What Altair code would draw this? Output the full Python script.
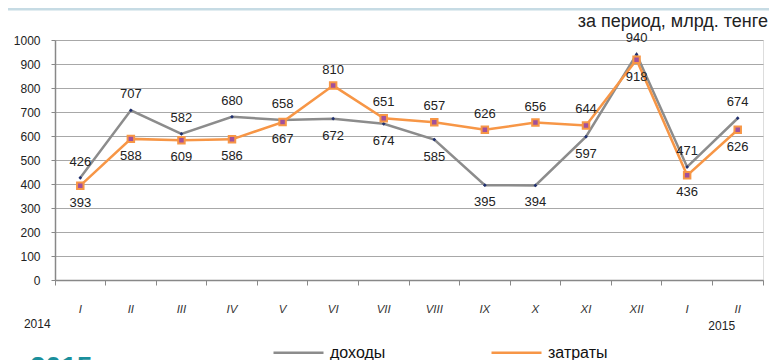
import altair as alt
import pandas as pd

months = ["I", "II", "III", "IV", "V", "VI", "VII", "VIII", "IX", "X", "XI", "XII", "I", "II"]
years = [2014] * 12 + [2015] * 2
income = [426, 707, 609, 680, 667, 672, 651, 585, 395, 394, 597, 940, 471, 674]   # доходы
costs = [393, 588, 582, 586, 658, 810, 674, 657, 626, 656, 644, 918, 436, 626]    # затраты
# which series' data label sits above the pair of points in each month
label_on_top = ["доходы", "доходы", "затраты", "доходы", "затраты", "затраты", "доходы",
                "затраты", "затраты", "затраты", "затраты", "доходы", "доходы", "доходы"]
series_names = ["доходы", "затраты"]
unit_title = "за период, млрд. тенге"

keys = [f"{y}-{m}" for y, m in zip(years, months)]

rows = []
for k, a, b in zip(keys, income, costs):
    rows.append({"key": k, "series": "доходы", "value": a})
    rows.append({"key": k, "series": "затраты", "value": b})
df = pd.DataFrame(rows)

top_rows, bot_rows = [], []
for k, a, b, t in zip(keys, income, costs, label_on_top):
    hi, lo = max(a, b), min(a, b)
    top_val = a if t == "доходы" else b
    bot_val = b if t == "доходы" else a
    top_rows.append({"key": k, "value": hi, "text": str(top_val)})
    bot_rows.append({"key": k, "value": lo, "text": str(bot_val)})
top_df = pd.DataFrame(top_rows)
bot_df = pd.DataFrame(bot_rows)

colors = ["#8c8c8c", "#f79646"]
FONT = "Liberation Sans"

xscale = alt.Scale(type="band", domain=keys, paddingInner=0, paddingOuter=0)
yscale = alt.Scale(domain=[0, 1000])

x_axis = alt.Axis(
    bandPosition=1, tickExtra=True,
    labelExpr="split(datum.value, '-')[1]", labelAngle=0,
    labelFontStyle="italic", labelFontSize=11.5, labelColor="#333333",
    labelPadding=18, labelBaseline="top",
    tickSize=5, tickColor="#888888", domainColor="#888888", domainWidth=1.5,
    grid=False,
)
y_axis = alt.Axis(
    values=list(range(0, 1001, 100)), format="d", grid=True, gridColor="#a8a8a8", gridWidth=1,
    tickSize=4, tickColor="#888888", domainColor="#888888", domainWidth=1.5,
    labelFontSize=12, labelColor="#222222", labelPadding=11,
)

def xe():
    return alt.X("key:N", scale=xscale, bandPosition=0.5, title=None, axis=x_axis)

def ye():
    return alt.Y("value:Q", scale=yscale, title=None, axis=y_axis)

color_enc = alt.Color(
    "series:N", scale=alt.Scale(domain=series_names, range=colors),
    legend=alt.Legend(
        title=None, orient="none", legendX=217, legendY=286, direction="horizontal",
        symbolType="stroke", symbolSize=2500, symbolStrokeWidth=2.5,
        labelFontSize=16, labelColor="#111111", labelOffset=5, columnPadding=100,
        labelFont=FONT,
    ),
)

base = alt.Chart(df)
lines = base.mark_line(strokeWidth=2.5).encode(x=xe(), y=ye(), color=color_enc)

pts_income = base.transform_filter(alt.datum.series == "доходы").mark_point(
    shape="diamond", filled=True, size=14, color="#1f2f70", opacity=1
).encode(x=xe(), y=ye())

pts_costs = base.transform_filter(alt.datum.series == "затраты").mark_point(
    shape="square", filled=True, size=42, fill="#a0509c", stroke="#f79646",
    strokeWidth=2, opacity=1
).encode(x=xe(), y=ye())

lab_top = alt.Chart(top_df).mark_text(
    font=FONT, fontSize=13, color="#222222", dy=-16, baseline="middle"
).encode(x=xe(), y=ye(), text="text:N")
lab_bot = alt.Chart(bot_df).mark_text(
    font=FONT, fontSize=13, color="#222222", dy=17, baseline="middle"
).encode(x=xe(), y=ye(), text="text:N")

year_df = pd.DataFrame({"key": [keys[0], keys[-1]], "text": ["2014", "2015"]})
year_2014 = alt.Chart(year_df.iloc[[0]]).mark_text(
    font=FONT, fontSize=12, color="#222222", dx=-43, baseline="middle"
).encode(x=xe(), y=alt.value(284), text="text:N")
year_2015 = alt.Chart(year_df.iloc[[1]]).mark_text(
    font=FONT, fontSize=12, color="#222222", dx=-16, baseline="middle"
).encode(x=xe(), y=alt.value(286), text="text:N")

title_txt = alt.Chart(pd.DataFrame({"t": [unit_title]})).mark_text(
    font=FONT, fontSize=18, color="#222222", align="right", baseline="middle"
).encode(x=alt.value(713), y=alt.value(-18), text="t:N")

top_rule = alt.Chart(pd.DataFrame({"a": [0]})).mark_rule(
    color="#c6dbe4", strokeWidth=3
).encode(x=alt.value(-47), x2=alt.value(714), y=alt.value(-31))

heading = alt.Chart(pd.DataFrame({"t": ["2015"]})).mark_text(
    font=FONT, fontSize=28, fontWeight="bold", color="#1a8f9c", align="left", baseline="top"
).encode(x=alt.value(-25), y=alt.value(314), text="t:N")

chart = alt.layer(
    lines, top_rule, pts_income, pts_costs, lab_top, lab_bot,
    year_2014, year_2015, title_txt, heading
).properties(
    width=708, height=240,
    autosize=alt.AutoSizeParams(type="none"),
    padding={"left": 47, "top": 32, "right": 6, "bottom": 80},
).configure_view(stroke=None).configure_axis(labelFont=FONT).configure(background="white")

chart.save("out.html", embed_options={"renderer": "svg", "actions": False})
